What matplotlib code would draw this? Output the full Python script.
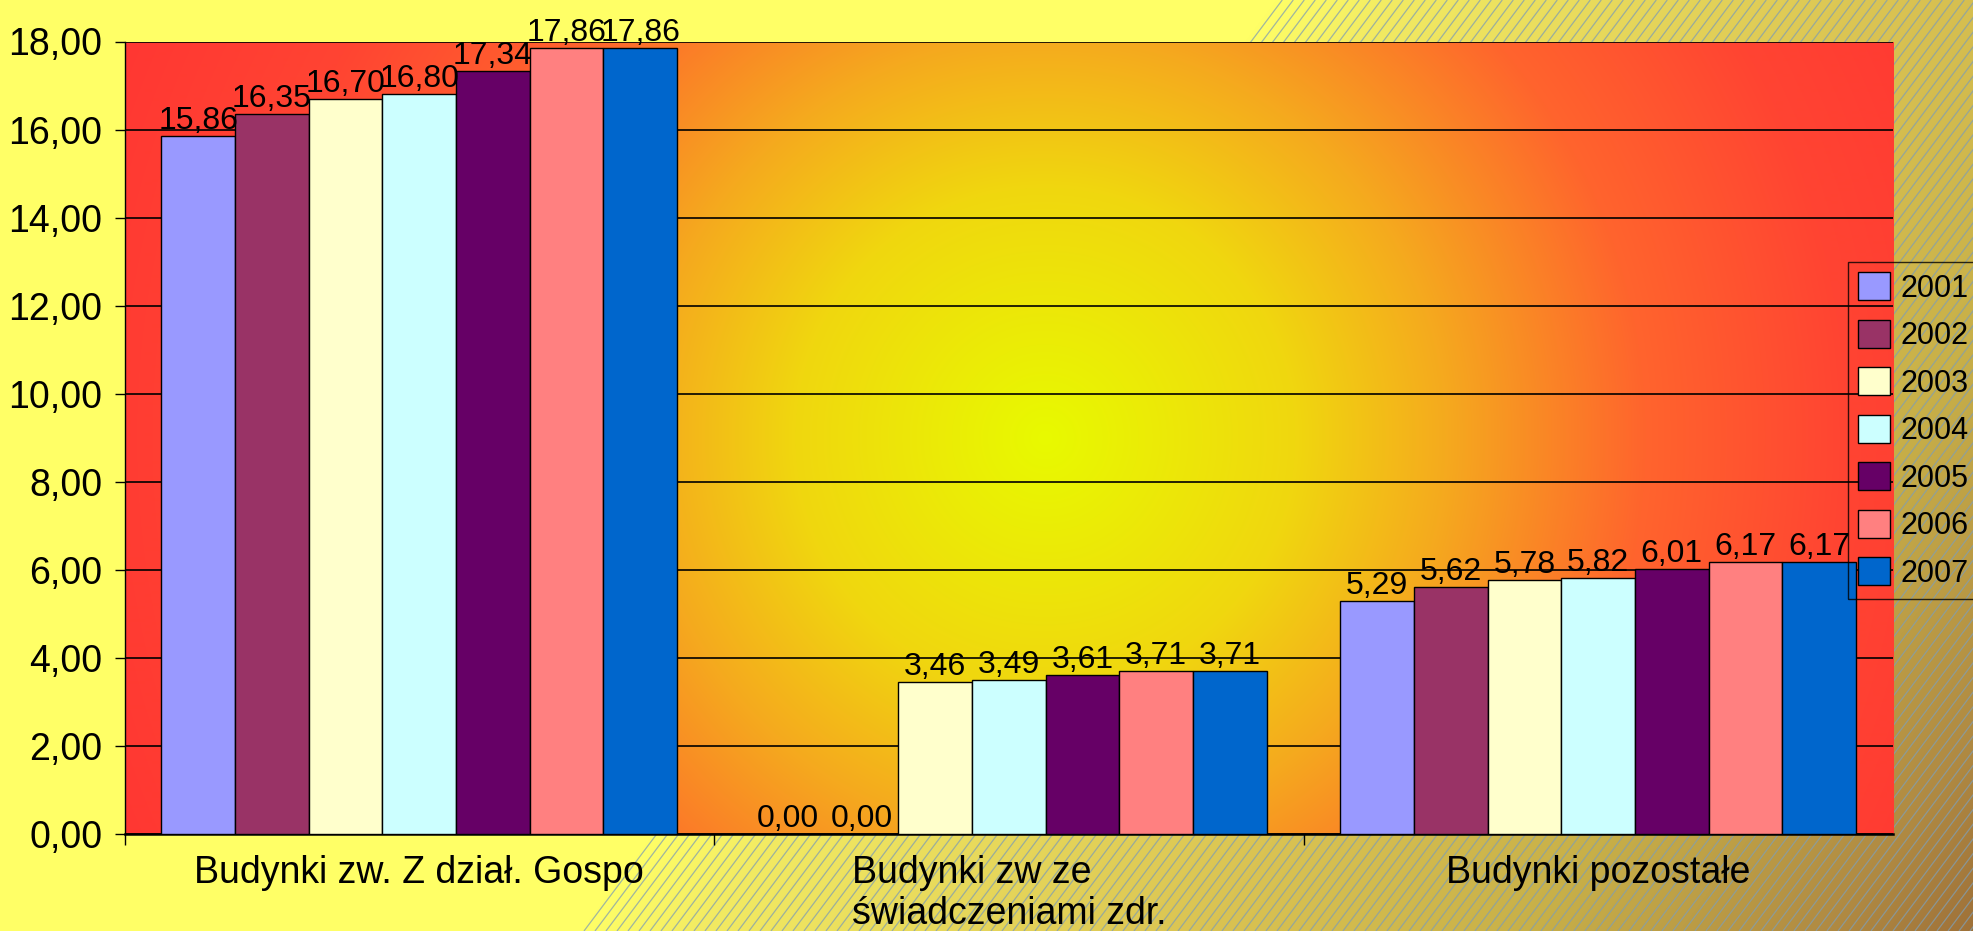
import numpy as np
import matplotlib
matplotlib.use("Agg")
import matplotlib.pyplot as plt
from matplotlib.patches import Polygon
from matplotlib.collections import LineCollection

plt.rcParams['font.family'] = ['Liberation Sans', 'DejaVu Sans']

# data
categories = ["Budynki zw. Z dział. Gospo",
              "Budynki zw ze\nświadczeniami zdr.",
              "Budynki pozostałe"]
years = ["2001", "2002", "2003", "2004", "2005", "2006", "2007"]
v2001 = [15.86, 0.00, 5.29]
v2002 = [16.35, 0.00, 5.62]
v2003 = [16.70, 3.46, 5.78]
v2004 = [16.80, 3.49, 5.82]
v2005 = [17.34, 3.61, 6.01]
v2006 = [17.86, 3.71, 6.17]
v2007 = [17.86, 3.71, 6.17]
series = [v2001, v2002, v2003, v2004, v2005, v2006, v2007]
colors = ["#9999FF", "#993366", "#FFFFCC", "#CCFFFF", "#660066", "#FF8080", "#0066CC"]

W, H = 1973, 931
fig = plt.figure(figsize=(W / 100, H / 100), dpi=100)

# figure background: yellow -> brown diagonal gradient with thin stripes
bg = fig.add_axes([0, 0, 1, 1], zorder=-10)
bg.set_xlim(0, W)
bg.set_ylim(H, 0)
bg.axis("off")
yy, xx = np.mgrid[0:H, 0:W]
t = ((xx - 1275) * 931 + yy * 695) / 1162.0
stops = [0, 100, 500, 760, 1000, 1120]
rs = [255, 242, 218, 200, 176, 158]
gs = [255, 234, 195, 176, 138, 112]
bs = [102, 98, 82, 72, 66, 56]
img = np.dstack([np.interp(t, stops, rs), np.interp(t, stops, gs),
                 np.interp(t, stops, bs)]) / 255.0
bg.imshow(img, extent=(0, W, H, 0), aspect="auto", interpolation="bilinear")
clip = Polygon([(1275, 0), (W, 0), (W, H), (580, H)], closed=True,
               transform=bg.transData, facecolor="none", edgecolor="none")
bg.add_patch(clip)
segs = [[(c, H), (c + H * 0.75, 0)] for c in range(-1000, 2000, 11)]
lc = LineCollection(segs, colors=[(0.5, 0.62, 0.7, 0.75)], linewidths=0.9)
bg.add_collection(lc)
lc.set_clip_path(clip)

# plot area
L, R, T, B = 124.5, 1893, 41.5, 834
ax = fig.add_axes([L / W, 1 - B / H, (R - L) / W, (B - T) / H])
pw, ph = int(R - L), int(B - T)
py, px = np.mgrid[0:ph, 0:pw]
d = np.hypot(px - 0.52 * pw, py - 0.5 * ph)
dst = [0, 250, 400, 600, 800, 1000]
rr = [232, 240, 245, 255, 255, 255]
gg = [250, 215, 170, 100, 68, 55]
bb = [0, 15, 30, 45, 50, 50]
pimg = np.dstack([np.interp(d, dst, rr), np.interp(d, dst, gg),
                  np.interp(d, dst, bb)]) / 255.0
ax.imshow(pimg, extent=(-0.5, 2.5, 0, 18), aspect="auto", zorder=0,
          interpolation="bilinear")

x = np.arange(len(categories))
bw = 0.125
for i, (yr, vals, c) in enumerate(zip(years, series, colors)):
    ax.bar(x + (i - 3) * bw, vals, width=bw, color=c, edgecolor="black",
           linewidth=1, label=yr, zorder=3)
    for xi, v in zip(x + (i - 3) * bw, vals):
        ax.annotate(f"{v:.2f}".replace(".", ","), (xi, v), xytext=(0, 0),
                    textcoords="offset points", ha="center", va="bottom",
                    fontsize=23, zorder=4)

ax.set_xlim(-0.5, 2.5)
ax.set_ylim(0, 18)
ax.set_yticks(np.arange(0, 19, 2))
ax.set_yticklabels([f"{v:.2f}".replace(".", ",") for v in np.arange(0, 19, 2)])
ax.tick_params(axis="y", labelsize=27, length=7, width=1, pad=9, direction="out")
ax.set_xticks(x)
ax.set_xticklabels(categories, fontsize=27, multialignment="left")
ax.set_xticks([-0.5, 0.5, 1.5], minor=True)
ax.tick_params(axis="x", which="major", length=0, pad=15)
ax.tick_params(axis="x", which="minor", length=8, width=1, direction="out")
ax.set_axisbelow(True)
ax.grid(axis="y", color="black", linewidth=1.2)
for s in ["top", "right"]:
    ax.spines[s].set_visible(False)
ax.spines["bottom"].set_linewidth(1.8)
ax.spines["left"].set_linewidth(1)

leg = ax.legend(loc="upper left", bbox_to_anchor=(1848 / W, 1 - 262 / H),
                bbox_transform=fig.transFigure, fontsize=22, handlelength=1.05,
                handleheight=1.05, labelspacing=0.52, borderpad=0.33,
                handletextpad=0.33, borderaxespad=0, fancybox=False,
                facecolor="none", edgecolor="black", framealpha=None)
leg.get_frame().set_linewidth(1)

fig.savefig("out.png", dpi=100)
